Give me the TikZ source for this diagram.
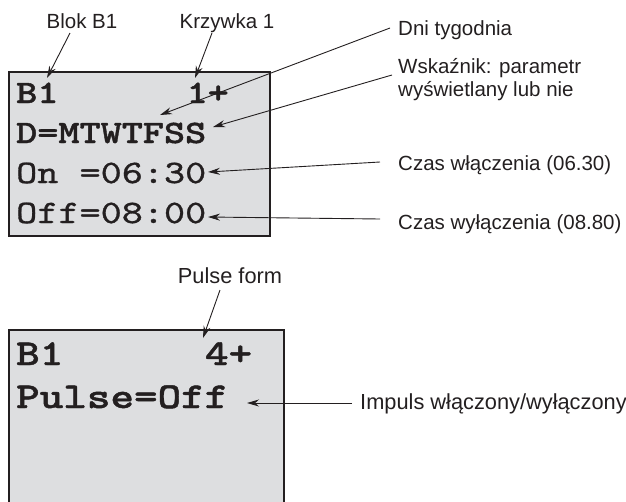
\documentclass[tikz,border=0pt]{standalone}
\usepackage{fontspec}
\setmainfont{Liberation Sans}
\newfontfamily\lcdfont{lmmono10-regular.otf}[FakeStretch=1.23,FakeBold=1]
\newfontfamily\lcdbold{lmmonolt10-bold.otf}[FakeStretch=1.23,FakeBold=1.2]
\usetikzlibrary{arrows.meta}
\definecolor{lcdgray}{RGB}{221,222,224}
\definecolor{ink}{RGB}{35,31,32}
\tikzset{
  lbl/.style={inner sep=0pt, font=\fontsize{20.5}{23}\selectfont, text=ink},
  lblB/.style={inner sep=0pt, font=\fontsize{21.8}{24}\selectfont, text=ink},
  lcdA/.style={inner sep=0pt, anchor=base west, font=\lcdbold\fontsize{32.7}{40}\selectfont, text=ink},
  lcdAr/.style={inner sep=0pt, anchor=base west, font=\lcdfont\fontsize{32.7}{40}\selectfont, text=ink},
  lcdB/.style={inner sep=0pt, anchor=base west, font=\lcdbold\fontsize{36.5}{43}\selectfont, text=ink},
  arr/.style={draw=ink, line width=0.9pt, -{Stealth[length=12pt,width=7pt]}},
  frame/.style={draw=ink, line width=1.1pt},
}
\begin{document}
\begin{tikzpicture}[x=1pt,y=-1pt]
\useasboundingbox (0,0) rectangle (626,501);
% top display
\fill[lcdgray] (9,72) rectangle (270,236);
\draw[frame] (9,72) rectangle (270,236);
% bottom display (cut off at the bottom)
\fill[lcdgray] (9,330) rectangle (284,502);
\draw[frame] (9,502) -- (9,330) -- (284,330) -- (284,502);

% top display texts
\node[lcdA] (tB) at (16,103) {B1};
\node[lcdA] (tC) at (186.4,103) {1+};
\node[lcdA] (tD) at (16,143) {D=MTWTFSS};
\node[lcdAr] (tOn) at (16,183) {On =06:30};
\node[lcdAr] (tOff) at (16,223) {Off=08:00};

% bottom display texts
\node[lcdB] (bB) at (16,365) {B1};
\node[lcdB] (bC) at (204.8,365) {4+};
\node[lcdB] (bP) at (16,408) {Pulse=Off};

% labels
\node[lbl, anchor=base] (blok) at (82,28) {Blok B1};
\node[lbl, anchor=base] (krz) at (227,28) {Krzywka 1};
\node[lbl, anchor=base west] (dni) at (398,35) {Dni tygodnia};
\node[lbl, anchor=north west, align=left] (wsk) at (398,58) {Wskaźnik: parametr\\wyświetlany lub nie};
\node[lbl, anchor=base west] (czw) at (398,170) {Czas włączenia (06.30)};
\node[lbl, anchor=base west] (czy) at (398,229) {Czas wyłączenia (08.80)};
\node[lblB, anchor=base] (pulse) at (230,283) {Pulse form};
\node[lblB, anchor=base west] (imp) at (360,409) {Impuls włączony/wyłączony};

% arrow tips
\coordinate (pB) at (47,78);
\coordinate (pC) at (195,78);
\coordinate (pD) at (160,115);
\coordinate (pS) at (213,127);
\coordinate (pOn) at (208,172);
\coordinate (pOff) at (208,217);
\coordinate (pP) at (203,338);
\coordinate (pI) at (247,403);

% connectors
\draw[arr] ([shift={(-12,5)}]blok.base) -- (pB);
\draw[arr] ([shift={(-15,5)}]krz.base) -- (pC);
\draw[arr] ([shift={(-8,-7)}]dni.base west) -- (pD);
\draw[arr] ([shift={(-6,17)}]wsk.north west) -- (pS);
\draw[arr] ([shift={(-18,-8)}]czw.base west) -- (pOn);
\draw[arr] ([shift={(-18,-10)}]czy.base west) -- (pOff);
\draw[arr] ([shift={(-10,7)}]pulse.base) -- (pP);
\draw[arr] ([shift={(-8,-6)}]imp.base west) -- (pI);
\end{tikzpicture}
\end{document}
